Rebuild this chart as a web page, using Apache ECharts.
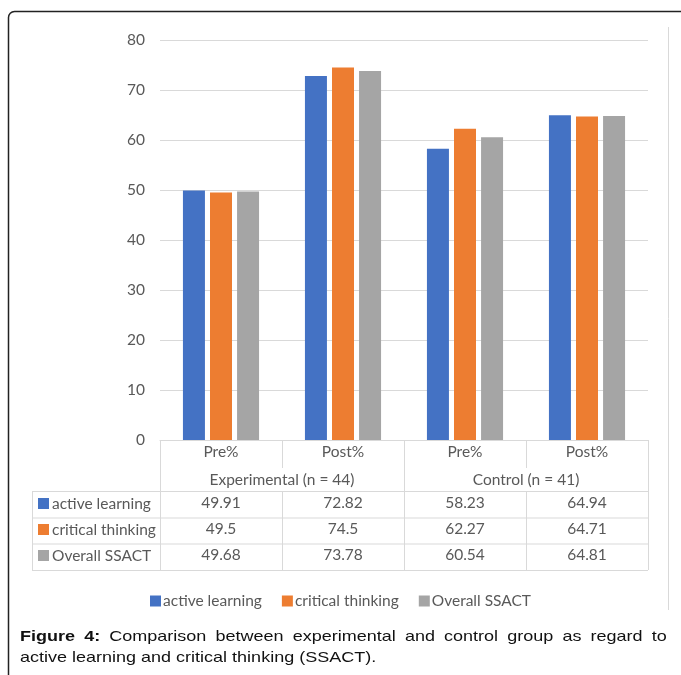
<!DOCTYPE html>
<html>
<head>
<meta charset="utf-8">
<script src="https://cdn.jsdelivr.net/npm/echarts@6/dist/echarts.min.js"></script>
<style>
html, body { margin: 0; padding: 0; background: #fff; }
#wrap { position: relative; width: 681px; height: 675px; overflow: hidden; }
#main { width: 681px; height: 675px; }
#caption {
    position: absolute; left: 20px; top: 626px; width: 539px;
    font-family: "Liberation Sans", Arial, sans-serif; font-size: 15px; line-height: 20.5px;
    color: #111; transform: scaleX(1.2); transform-origin: 0 0;
}
#caption .l1 { text-align: justify; text-align-last: justify; white-space: nowrap; }
</style>
</head>
<body>
<div id="wrap">
    <div id="main"></div>
    <div id="caption">
        <div class="l1"><b>Figure 4:</b> Comparison between experimental and control group as regard to</div>
        <div>active learning and critical thinking (SSACT).</div>
    </div>
</div>
<script>
// data
var phases = ['Pre%', 'Post%', 'Pre%', 'Post%'];
var groups = ['Experimental (n = 44)', 'Control (n = 41)'];
var seriesNames = ['active learning', 'critical thinking', 'Overall SSACT'];
var activeLearning = [49.91, 72.82, 58.23, 64.94];
var criticalThinking = [49.5, 74.5, 62.27, 64.71];
var overallSSACT = [49.68, 73.78, 60.54, 64.81];
var yTicks = { min: 0, max: 80, interval: 10 };

var colors = ['#4472C4', '#ED7D31', '#A5A5A5'];
var values = [activeLearning, criticalThinking, overallSSACT];
var font = 'Lato, "Open Sans", sans-serif';
var fs = 15.5;
var textCol = '#595959';
var lineCol = '#D9D9D9';

var rowY = [504, 530, 556];  // value rows of the data table

var myChart = echarts.init(document.getElementById('main'));

var xAxes = [
    {
        type: 'category', data: phases, position: 'bottom', gridIndex: 0,
        axisLine: { show: true, lineStyle: { color: lineCol } },
        axisTick: { show: false },
        axisLabel: { color: textCol, fontFamily: font, fontSize: fs, margin: 4 }
    },
    {
        type: 'category', data: groups, position: 'bottom', offset: 28,
        axisLine: { show: false }, axisTick: { show: false },
        axisLabel: { color: textCol, fontFamily: font, fontSize: fs, margin: 4 }
    }
];
values.forEach(function (vals, i) {
    xAxes.push({
        type: 'category', data: vals.map(String), position: 'bottom',
        offset: rowY[i] - 440 - 13,
        axisLine: { show: false }, axisTick: { show: false },
        axisLabel: { color: textCol, fontFamily: font, fontSize: fs, margin: 4, interval: 0 }
    });
});

var option = {
    animation: false,
    color: colors,
    grid: { left: 160, right: 33, top: 40, bottom: 235, containLabel: false },
    legend: {
        data: seriesNames, top: 588, left: 'center',
        icon: 'rect', itemWidth: 11, itemHeight: 11, itemGap: 20,
        textStyle: { color: textCol, fontFamily: font, fontSize: fs, padding: [0, 0, 0, -3] }
    },
    xAxis: xAxes,
    yAxis: {
        type: 'value', min: yTicks.min, max: yTicks.max, interval: yTicks.interval,
        axisLine: { show: false }, axisTick: { show: false },
        axisLabel: { color: textCol, fontFamily: font, fontSize: fs, margin: 15 },
        splitLine: { lineStyle: { color: lineCol } }
    },
    series: seriesNames.map(function (name, i) {
        return {
            name: name, type: 'bar', xAxisIndex: 0,
            data: values[i], barWidth: 22, barGap: '23%'
        };
    })
};
myChart.setOption(option);

// data table grid + row labels, placed from the category axis positions
var cx = phases.map(function (p, i) { return myChart.convertToPixel({ xAxisIndex: 0 }, i); });
var half = (cx[1] - cx[0]) / 2;
var edges = [cx[0] - half].concat(cx.map(function (c) { return c + half; }));
var tTop = 440, tHead = 491, tBottom = 570, tLeft = 32;
var gfx = [];
function line(x1, y1, x2, y2, col, w) {
    gfx.push({ type: 'line', shape: { x1: x1, y1: y1, x2: x2, y2: y2 },
        style: { stroke: col || lineCol, lineWidth: w || 1 }, silent: true });
}
var right = edges[edges.length - 1];
[tHead, 517.5, 543.5, tBottom].forEach(function (y) { line(tLeft, y + 0.5, right, y + 0.5); });
line(tLeft + 0.5, tHead, tLeft + 0.5, tBottom);
edges.forEach(function (x, i) {
    var xx = Math.round(x) + 0.5;
    if (i % 2 === 1) {
        line(xx, tTop, xx, 468);
        line(xx, tHead, xx, tBottom);
    } else {
        line(xx, tTop, xx, tBottom);
    }
});
seriesNames.forEach(function (name, i) {
    gfx.push({ type: 'rect', shape: { x: 38, y: rowY[i] - 6, width: 11, height: 11 },
        style: { fill: colors[i] }, silent: true });
    gfx.push({ type: 'text', x: 52, y: rowY[i],
        style: { text: name, fill: textCol, font: fs + 'px ' + font, textVerticalAlign: 'middle' }, silent: true });
});
// outer frame of the figure and the right edge of the chart picture
gfx.push({ type: 'rect', shape: { x: 8.5, y: 11.5, width: 720, height: 720, r: 6 },
    style: { fill: 'none', stroke: '#222', lineWidth: 1.5 }, silent: true });
line(668.5, 27, 668.5, 610);

myChart.setOption({ graphic: gfx });
</script>
</body>
</html>
